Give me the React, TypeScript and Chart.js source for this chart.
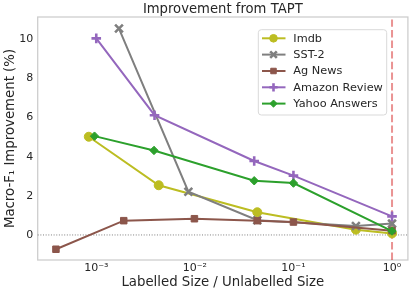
import { useEffect, useRef } from "react";
import { Chart, registerables } from "chart.js";
import { drawPoint } from "chart.js/helpers";

Chart.register(...registerables);

const seriesNames = ["Imdb", "SST-2", "Ag News", "Amazon Review", "Yahoo Answers"];
const seriesColors = ["#bcbd22", "#7f7f7f", "#8c564b", "#9467bd", "#2ca02c"];

const imdbX = [8.4e-4, 4.3e-3, 0.043, 0.43, 1];
const imdbY = [5.02, 2.54, 1.16, 0.27, 0.08];
const sstX = [1.7e-3, 8.6e-3, 0.043, 0.43, 1];
const sstY = [10.55, 2.21, 0.75, 0.46, 0.58];
const agX = [3.9e-4, 1.9e-3, 9.9e-3, 0.043, 0.1, 1];
const agY = [-0.73, 0.73, 0.83, 0.73, 0.66, 0.22];
const amazonX = [1e-3, 3.9e-3, 0.04, 0.1, 1];
const amazonY = [10.05, 6.12, 3.78, 3.03, 0.95];
const yahooX = [9.6e-4, 3.85e-3, 0.04, 0.1, 1];
const yahooY = [5.05, 4.32, 2.77, 2.65, 0.2];

const xTicks = [1e-3, 1e-2, 1e-1, 1];
const xTickLabels = ["10⁻³", "10⁻²", "10⁻¹", "10⁰"];
const yTicks = [0, 2, 4, 6, 8, 10];

const FONT = "'DejaVu Sans', sans-serif";
const TEXT = "#262626";

const seriesXs = [imdbX, sstX, agX, amazonX, yahooX];
const seriesYs = [imdbY, sstY, agY, amazonY, yahooY];
const pointStyles = ["circle", "crossRot", "rect", "cross", "rectRot"];
const pointRadii = [4.5, 5.5, 4.6, 4.8, 4.2];
const pointBorders = [1, 2.6, 1, 2.6, 1];

const overlayPlugin = {
  id: "overlay",
  beforeDatasetsDraw(chart: any) {
    const { ctx, chartArea, scales } = chart;
    const { left, right, top, bottom } = chartArea;
    ctx.save();
    // frame
    ctx.strokeStyle = "#cccccc";
    ctx.lineWidth = 1.25;
    ctx.strokeRect(left, top, right - left, bottom - top);
    // zero dotted line
    const y0 = scales.y.getPixelForValue(0);
    ctx.strokeStyle = "#7f7f7f";
    ctx.lineWidth = 1;
    ctx.setLineDash([1, 1.65]);
    ctx.beginPath();
    ctx.moveTo(left, y0);
    ctx.lineTo(right, y0);
    ctx.stroke();
    // vertical dashed line at 1
    const x1 = scales.x.getPixelForValue(1);
    ctx.strokeStyle = "rgba(214,39,40,0.5)";
    ctx.lineWidth = 2;
    ctx.setLineDash([7.4, 3.2]);
    ctx.beginPath();
    ctx.moveTo(x1, bottom);
    ctx.lineTo(x1, top);
    ctx.stroke();
    ctx.restore();
  },
  afterDraw(chart: any) {
    const { ctx, chartArea } = chart;
    ctx.save();
    // title
    ctx.fillStyle = TEXT;
    ctx.font = `13.2px ${FONT}`;
    ctx.textAlign = "center";
    ctx.textBaseline = "middle";
    ctx.fillText("Improvement from TAPT", (chartArea.left + chartArea.right) / 2, 10);
    // legend
    const bx = 258.3, by = 29.7, bw = 128.4, bh = 85.3;
    ctx.fillStyle = "rgba(255,255,255,0.8)";
    ctx.strokeStyle = "#d9d9d9";
    ctx.lineWidth = 1;
    ctx.beginPath();
    ctx.roundRect(bx, by, bw, bh, 3);
    ctx.fill();
    ctx.stroke();
    const rowY = [38.3, 54.6, 71, 87.3, 103.6];
    seriesNames.forEach((name, i) => {
      const yy = rowY[i];
      const c = seriesColors[i];
      ctx.strokeStyle = c;
      ctx.fillStyle = c;
      ctx.lineWidth = 2;
      ctx.setLineDash([]);
      ctx.beginPath();
      ctx.moveTo(262, yy);
      ctx.lineTo(285.5, yy);
      ctx.stroke();
      ctx.lineWidth = pointBorders[i];
      drawPoint(ctx, { pointStyle: pointStyles[i] as any, radius: pointRadii[i] * 0.85, rotation: 0, borderWidth: pointBorders[i] }, 273.5, yy);
      ctx.fillStyle = TEXT;
      ctx.font = `11.3px ${FONT}`;
      ctx.textAlign = "left";
      ctx.textBaseline = "middle";
      ctx.fillText(name, 293.3, yy + 0.5);
    });
    ctx.restore();
  },
};

export default function App() {
  const ref = useRef<HTMLCanvasElement>(null);
  useEffect(() => {
    document.body.style.margin = "0";
    const canvas = ref.current!;
    const datasets = seriesNames.map((name, i) => ({
      label: name,
      data: seriesXs[i].map((x, j) => ({ x, y: seriesYs[i][j] })),
      borderColor: seriesColors[i],
      backgroundColor: seriesColors[i],
      borderWidth: 2,
      pointStyle: pointStyles[i],
      pointRadius: pointRadii[i],
      pointBorderWidth: pointBorders[i],
      pointBorderColor: seriesColors[i],
      pointBackgroundColor: seriesColors[i],
      order: seriesNames.length - i,
      tension: 0,
    }));
    const chart = new Chart(canvas, {
      type: "line",
      data: { datasets },
      plugins: [overlayPlugin],
      options: {
        animation: false,
        responsive: false,
        devicePixelRatio: 1,
        layout: { padding: { top: 17, right: 5, left: 0, bottom: 0 } },
        plugins: { legend: { display: false }, title: { display: false }, tooltip: { enabled: false } },
        scales: {
          x: {
            type: "logarithmic",
            min: Math.pow(10, -3.594),
            max: Math.pow(10, 0.161),
            grid: { display: false, drawTicks: false },
            border: { display: false },
            afterFit: (s: any) => { s.height = 35; },
            afterBuildTicks: (s: any) => { s.ticks = xTicks.map((v) => ({ value: v })); },
            ticks: {
              padding: 2,
              color: TEXT,
              font: { family: FONT, size: 11 },
              autoSkip: false,
              maxRotation: 0,
              callback: (v: any) => {
                const k = xTicks.indexOf(Number(v));
                return k >= 0 ? xTickLabels[k] : "";
              },
            },
            title: {
              display: true,
              text: "Labelled Size / Unlabelled Size",
              color: TEXT,
              font: { family: FONT, size: 13.3 },
              padding: { top: 0, bottom: 4 },
            },
          },
          y: {
            type: "linear",
            min: -1.28,
            max: 11.14,
            grid: { display: false, drawTicks: false },
            border: { display: false },
            afterFit: (s: any) => { s.width = 37.7; },
            afterBuildTicks: (s: any) => { s.ticks = yTicks.map((v) => ({ value: v })); },
            ticks: {
              padding: 4.4,
              color: TEXT,
              font: { family: FONT, size: 11 },
              callback: (v: any) => String(v),
            },
            title: {
              display: true,
              text: "Macro-F₁ Improvement (%)",
              color: TEXT,
              font: { family: FONT, size: 13.3 },
              padding: { top: 3, bottom: 0 },
            },
          },
        },
      },
    } as any);
    return () => chart.destroy();
  }, []);
  return (
    <div style={{ position: "absolute", left: 0, top: 0, width: 416, height: 295 }}>
      <canvas ref={ref} width={416} height={295} style={{ width: 416, height: 295 }} />
    </div>
  );
}
